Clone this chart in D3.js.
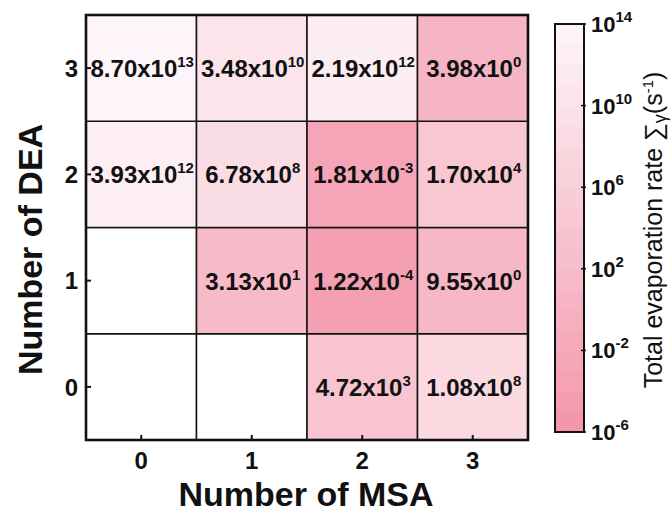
<!DOCTYPE html>
<html>
<head>
<meta charset="utf-8">
<script src="https://cdn.jsdelivr.net/npm/d3@7"></script>
<style>
  html, body { margin: 0; padding: 0; background: #fff; }
  svg { display: block; font-family: "Liberation Sans", Arial, sans-serif; }
</style>
</head>
<body>
<svg id="chart" width="672" height="515"></svg>
<script>
// Number of MSA (columns) and number of DEA (rows)
const msaCounts = [0, 1, 2, 3];
const deaCounts = [0, 1, 2, 3];

// Total evaporation rate per (DEA, MSA) combination, as mantissa and exponent.
// null marks combinations that were not computed.
const mantissaByDea = {
  3: ["8.70", "3.48", "2.19", "3.98"],
  2: ["3.93", "6.78", "1.81", "1.70"],
  1: [null,   "3.13", "1.22", "9.55"],
  0: [null,   null,   "4.72", "1.08"]
};
const exponentByDea = {
  3: [13, 10, 12, 0],
  2: [12, 8, -3, 4],
  1: [null, 1, -4, 0],
  0: [null, null, 3, 8]
};

// Colour bar tick exponents
const colorbarExponents = [14, 10, 6, 2, -2, -6];

const cells = [];
deaCounts.forEach(dea => {
  msaCounts.forEach((msa, i) => {
    const m = mantissaByDea[dea][i];
    const e = exponentByDea[dea][i];
    cells.push({
      dea, msa, mantissa: m, exponent: e,
      value: m === null ? null : (+m) * Math.pow(10, e)
    });
  });
});

const svg = d3.select("#chart");

const plot = { left: 86, right: 528, top: 15, bottom: 440 };

const x = d3.scaleBand().domain(msaCounts).range([plot.left, plot.right]).padding(0);
const y = d3.scaleBand().domain(deaCounts.slice().reverse()).range([plot.top, plot.bottom]).padding(0);

// Log colour scale from deep pink (1e-6) to near white (1e14)
const logMin = -6, logMax = 14;
const colorInterp = d3.interpolateRgb("#f396aa", "#fdf5f9");
const color = v => colorInterp((Math.log10(v) - logMin) / (logMax - logMin));

// Heatmap cells
svg.append("g").selectAll("rect")
  .data(cells)
  .join("rect")
  .attr("x", d => x(d.msa))
  .attr("y", d => y(d.dea))
  .attr("width", x.bandwidth())
  .attr("height", y.bandwidth())
  .attr("fill", d => d.value === null ? "#ffffff" : color(d.value))
  .attr("stroke", "#111")
  .attr("stroke-width", 1.5);

// Cell labels: mantissa x 10 with superscript exponent
const labels = svg.append("g")
  .selectAll("text")
  .data(cells.filter(d => d.value !== null))
  .join("text")
  .attr("x", d => x(d.msa) + x.bandwidth() / 2 + 1)
  .attr("y", d => y(d.dea) + y.bandwidth() / 2 + 9)
  .attr("text-anchor", "middle")
  .attr("font-size", 24)
  .attr("font-weight", "bold")
  .attr("fill", "#111");
labels.append("tspan").text(d => d.mantissa + "x10");
labels.append("tspan")
  .attr("dy", -10)
  .attr("font-size", 15)
  .text(d => String(d.exponent));

// Outer frame
svg.append("rect")
  .attr("x", plot.left).attr("y", plot.top)
  .attr("width", plot.right - plot.left).attr("height", plot.bottom - plot.top)
  .attr("fill", "none").attr("stroke", "#111").attr("stroke-width", 2.6);

// Axes with inward ticks
const xAxis = svg.append("g")
  .attr("transform", `translate(0,${plot.bottom})`)
  .call(d3.axisBottom(x).tickSize(-5).tickPadding(12));
const yAxis = svg.append("g")
  .attr("transform", `translate(${plot.left},0)`)
  .call(d3.axisLeft(y).tickSize(-5).tickPadding(8));
[xAxis, yAxis].forEach(a => {
  a.select(".domain").remove();
  a.selectAll(".tick line").attr("stroke", "#111").attr("stroke-width", 2);
  a.selectAll(".tick text")
    .attr("font-family", "'Liberation Sans', Arial, sans-serif")
    .attr("font-size", 24).attr("font-weight", "bold").attr("fill", "#111");
});
yAxis.selectAll(".tick text").attr("dy", "0.36em");
xAxis.selectAll(".tick text").attr("dy", "0.71em");

// Axis titles
svg.append("text")
  .attr("x", (plot.left + plot.right) / 2 - 1)
  .attr("y", 506)
  .attr("text-anchor", "middle")
  .attr("font-size", 34).attr("font-weight", "bold").attr("fill", "#111")
  .text("Number of MSA");
svg.append("text")
  .attr("transform", `translate(42,${(plot.top + plot.bottom) / 2 + 22}) rotate(-90)`)
  .attr("text-anchor", "middle")
  .attr("font-size", 34).attr("font-weight", "bold").attr("fill", "#111")
  .text("Number of DEA");

// Colour bar
const cb = { left: 555, right: 584, top: 24, bottom: 432 };
const cbScale = d3.scaleLog()
  .domain([Math.pow(10, logMin), Math.pow(10, logMax)])
  .range([cb.bottom, cb.top]);
const bandExps = d3.range(logMin, logMax, 1);
svg.append("g").selectAll("rect")
  .data(bandExps)
  .join("rect")
  .attr("x", cb.left)
  .attr("y", e => cbScale(Math.pow(10, e + 1)))
  .attr("width", cb.right - cb.left)
  .attr("height", e => cbScale(Math.pow(10, e)) - cbScale(Math.pow(10, e + 1)) + 0.5)
  .attr("fill", e => color(Math.pow(10, e + 0.5)));
svg.append("rect")
  .attr("x", cb.left).attr("y", cb.top)
  .attr("width", cb.right - cb.left).attr("height", cb.bottom - cb.top)
  .attr("fill", "none").attr("stroke", "#111").attr("stroke-width", 2);

const cbTicks = svg.append("g").selectAll("g")
  .data(colorbarExponents)
  .join("g")
  .attr("transform", e => `translate(${cb.right},${cbScale(Math.pow(10, e))})`);
cbTicks.append("line").attr("x1", -3).attr("x2", 2).attr("stroke", "#111").attr("stroke-width", 1.5);
const cbText = cbTicks.append("text")
  .attr("x", 7).attr("y", 8)
  .attr("font-size", 22).attr("font-weight", "bold").attr("fill", "#111");
cbText.append("tspan").text("10");
cbText.append("tspan").attr("dy", -10).attr("font-size", 15).text(e => String(e));

// Colour bar title
const cbTitle = svg.append("text")
  .attr("transform", `translate(662,${(cb.top + cb.bottom) / 2 + 2}) rotate(-90)`)
  .attr("text-anchor", "middle")
  .attr("font-size", 25).attr("fill", "#111");
cbTitle.append("tspan").text("Total evaporation rate \u2211");
cbTitle.append("tspan").attr("font-size", 18).attr("dy", 4).text("\u03B3");
cbTitle.append("tspan").attr("dy", -4).text("(s");
cbTitle.append("tspan").attr("font-size", 15).attr("dy", -9).text("-1");
cbTitle.append("tspan").attr("dy", 9).text(")");
</script>
</body>
</html>
